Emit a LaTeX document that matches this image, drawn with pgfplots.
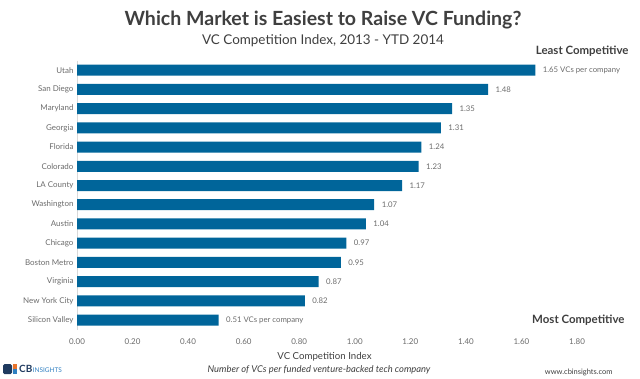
\documentclass[border=0pt]{standalone}
\usepackage{pgfplots}
\pgfplotsset{compat=1.18}
\usepackage{fontspec}
\setmainfont{Lato}
\definecolor{barblue}{HTML}{00659A}
\definecolor{txtgray}{HTML}{6B6B6B}
\definecolor{titlegray}{HTML}{3F3F3F}
\definecolor{logonavy}{HTML}{1F3A5F}
\definecolor{logoblue}{HTML}{2F7FC1}
\definecolor{logoorange}{HTML}{E8742C}
\begin{document}
\begin{tikzpicture}[x=1bp,y=1bp]
\useasboundingbox (0,0) rectangle (640,-378);
\begin{axis}[
  at={(77bp,-329.6bp)}, anchor=south west,
  scale only axis, width=500bp, height=269bp,
  xmin=0, xmax=1.8, ymin=-0.5, ymax=13.5, y dir=reverse,
  xbar, bar width=11bp,
  axis x line*=bottom, axis y line*=left,
  x axis line style={draw=none},
  y axis line style={draw=black!15},
  major tick length=0pt,
  ytick={0,...,13},
  yticklabels={Utah,San Diego,Maryland,Georgia,Florida,Colorado,LA County,Washington,Austin,Chicago,Boston Metro,Virginia,New York City,Silicon Valley},
  xtick={0,0.2,0.4,0.6,0.8,1.0,1.2,1.4,1.6,1.8},
  /pgf/number format/assume math mode=true,
  xticklabel style={/pgf/number format/fixed,/pgf/number format/fixed zerofill,/pgf/number format/precision=2, font=\fontsize{8}{9}\selectfont, text=txtgray, yshift=-6bp},
  scaled x ticks=false,
  yticklabel style={font=\fontsize{8}{9}\selectfont, text=txtgray},
  point meta=explicit symbolic,
  nodes near coords,
  nodes near coords style={font=\fontsize{7.8}{9}\selectfont, text=txtgray, anchor=west, xshift=4bp},
  clip=false,
]
\addplot[fill=barblue, draw=none] coordinates {
(1.65,0) [1.65 VCs per company]
(1.48,1) [1.48]
(1.35,2) [1.35]
(1.31,3) [1.31]
(1.24,4) [1.24]
(1.23,5) [1.23]
(1.17,6) [1.17]
(1.07,7) [1.07]
(1.04,8) [1.04]
(0.97,9) [0.97]
(0.95,10) [0.95]
(0.87,11) [0.87]
(0.82,12) [0.82]
(0.51,13) [0.51 VCs per company]
};
\end{axis}
\node[font=\fontsize{19.6}{22}\selectfont\bfseries, text=titlegray] at (323,-20) {Which Market is Easiest to Raise VC Funding?};
\node[font=\fontsize{13.5}{15}\selectfont, text=titlegray] at (323,-41) {VC Competition Index, 2013 - YTD 2014};
\node[font=\fontsize{11.5}{13}\selectfont\bfseries, text=titlegray, anchor=east] at (632,-51) {Least Competitive};
\node[font=\fontsize{11.5}{13}\selectfont\bfseries, text=titlegray, anchor=east] at (628,-320) {Most Competitive};
\node[font=\fontsize{9.7}{11}\selectfont, text=titlegray] at (324.5,-357) {VC Competition Index};
\node[font=\fontsize{9.4}{11}\selectfont\itshape, text=titlegray] at (319,-370) {Number of VCs per funded venture-backed tech company};
\node[font=\fontsize{7.5}{9}\selectfont, text=titlegray, anchor=east] at (616,-372) {www.cbinsights.com};
% logo
\fill[logonavy, rounded corners=1.5bp] (3,-364) rectangle (12,-374);
\fill[logoorange] (12.5,-364) rectangle (17,-368.7);
\fill[logoblue] (12.5,-369.3) rectangle (17,-374);
\node[anchor=west, inner sep=0pt, text=logonavy, font=\fontsize{10}{11}\selectfont\bfseries] (cb) at (19,-369) {CB};
\node[anchor=base west, inner sep=0pt, text=logoblue, font=\fontsize{6.5}{7}\selectfont] at (cb.base east) {INSIGHTS};
\end{tikzpicture}
\end{document}
